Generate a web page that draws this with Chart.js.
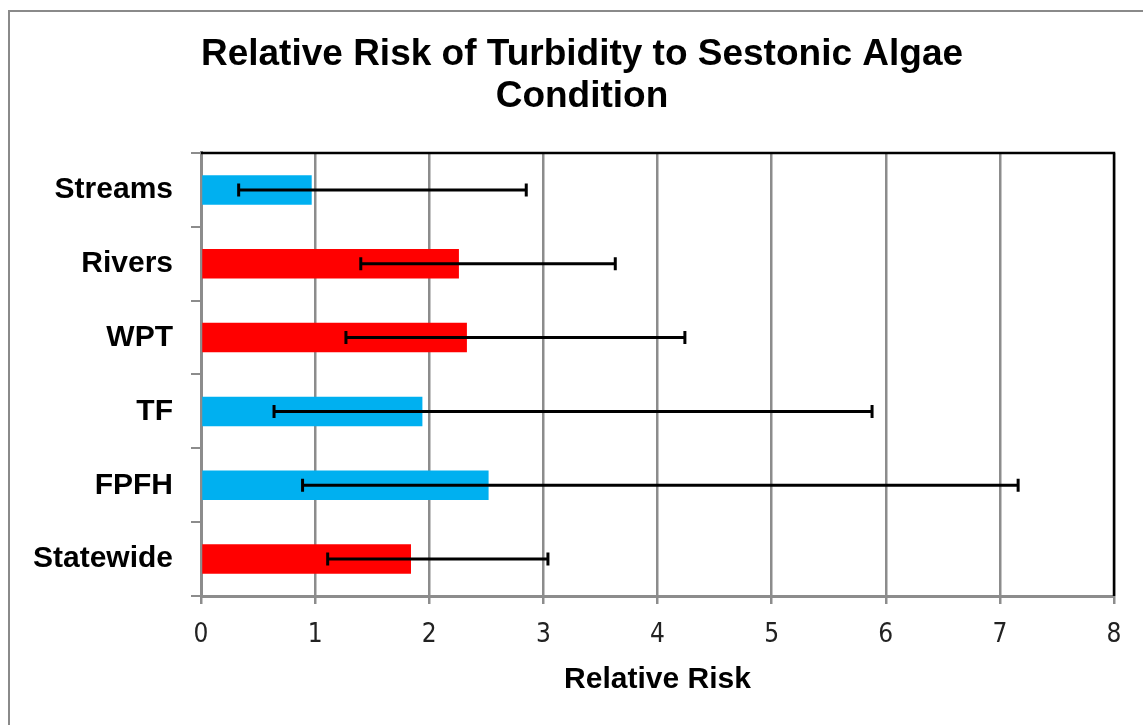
<!DOCTYPE html>
<html>
<head>
<meta charset="utf-8">
<script src="https://cdn.jsdelivr.net/npm/chart.js@4"></script>
<style>
  body { margin: 0; background: #fff; }
  #wrap { position: relative; width: 1143px; height: 725px; }
</style>
</head>
<body>
<div id="wrap"><canvas id="riskChart" width="1143" height="725"></canvas></div>
<script>
// Relative risk of turbidity to sestonic algae condition
const categories = ['Streams', 'Rivers', 'WPT', 'TF', 'FPFH', 'Statewide'];
const relRisk = [0.97, 2.26, 2.33, 1.94, 2.52, 1.84];
const ciLow = [0.33, 1.40, 1.27, 0.64, 0.89, 1.11];
const ciHigh = [2.85, 3.63, 4.24, 5.88, 7.16, 3.04];
const barColors = ['#00b0f0', '#ff0000', '#ff0000', '#00b0f0', '#00b0f0', '#ff0000'];
const xTicks = [0, 1, 2, 3, 4, 5, 6, 7, 8];

const gridGray = '#8c8c8c';

// outer frame of the picture
const framePlugin = {
    id: 'frame',
    beforeDraw(chart) {
        const ctx = chart.ctx;
        ctx.save();
        ctx.fillStyle = '#fff';
        ctx.fillRect(0, 0, chart.width, chart.height);
        ctx.strokeStyle = '#8a8a8a';
        ctx.lineWidth = 2;
        ctx.strokeRect(9, 11, chart.width + 20, chart.height + 20);
        ctx.restore();
    },
    // let the long category labels use the space left of the padding (no clipping)
    afterLayout(chart) {
        chart.scales.y.left = 0;
    }
};

// asymmetric error bars, drawn through the x scale
const errorBarPlugin = {
    id: 'errorBars',
    afterDatasetsDraw(chart) {
        const ctx = chart.ctx;
        const xs = chart.scales.x;
        const meta = chart.getDatasetMeta(0);
        ctx.save();
        ctx.strokeStyle = '#000';
        ctx.lineWidth = 3;
        meta.data.forEach((bar, i) => {
            const y = bar.y;
            const x1 = xs.getPixelForValue(ciLow[i]);
            const x2 = xs.getPixelForValue(ciHigh[i]);
            ctx.beginPath();
            ctx.moveTo(x1, y);
            ctx.lineTo(x2, y);
            ctx.moveTo(x1, y - 6.5);
            ctx.lineTo(x1, y + 6.5);
            ctx.moveTo(x2, y - 6.5);
            ctx.lineTo(x2, y + 6.5);
            ctx.stroke();
        });
        ctx.restore();
    }
};

// black top and right edges of the plot area
const plotBorderPlugin = {
    id: 'plotBorder',
    afterDraw(chart) {
        const a = chart.chartArea;
        const ctx = chart.ctx;
        ctx.save();
        ctx.strokeStyle = '#000';
        ctx.lineWidth = 2.5;
        ctx.beginPath();
        ctx.moveTo(a.left, a.top);
        ctx.lineTo(a.right, a.top);
        ctx.lineTo(a.right, a.bottom);
        ctx.stroke();
        ctx.restore();
    }
};

const canvas = document.getElementById('riskChart');
if (canvas) {
    const ctx = canvas.getContext('2d');
    const riskChart = new Chart(ctx, {
        type: 'bar',
        data: {
            labels: categories,
            datasets: [{
                data: relRisk,
                backgroundColor: barColors,
                borderWidth: 0,
                categoryPercentage: 0.4,
                barPercentage: 1
            }]
        },
        options: {
            indexAxis: 'y',
            responsive: false,
            animation: false,
            layout: {
                padding: { left: 50, right: 29, top: 0, bottom: 0 }
            },
            scales: {
                x: {
                    min: 0,
                    max: 8,
                    afterFit: function(scale) { scale.height = 129; },
                    afterBuildTicks: function(scale) {
                        scale.ticks = xTicks.map(v => ({ value: v }));
                    },
                    grid: {
                        color: gridGray,
                        lineWidth: 2.5,
                        tickLength: 8
                    },
                    border: { color: gridGray, width: 3 },
                    ticks: {
                        color: '#222',
                        padding: 16,
                        font: { family: "'Liberation Sans Narrow', 'DejaVu Sans Condensed', sans-serif", size: 26 }
                    },
                    title: {
                        display: true,
                        text: 'Relative Risk',
                        color: '#000',
                        font: { family: "'Liberation Sans', Arial, sans-serif", size: 30, weight: 'bold', lineHeight: 1.2 },
                        padding: { top: 0, bottom: 27 }
                    }
                },
                y: {
                    afterFit: function(scale) { scale.width = 151; },
                    grid: {
                        drawOnChartArea: false,
                        color: gridGray,
                        lineWidth: 2,
                        tickLength: 10
                    },
                    border: { color: gridGray, width: 3 },
                    ticks: {
                        color: '#000',
                        padding: 18,
                        font: { family: "'Liberation Sans', Arial, sans-serif", size: 30, weight: 'bold' }
                    }
                }
            },
            plugins: {
                legend: { display: false },
                tooltip: { enabled: false },
                title: {
                    display: true,
                    text: ['Relative Risk of Turbidity to Sestonic Algae', 'Condition'],
                    color: '#000',
                    font: { family: "'Liberation Sans', Arial, sans-serif", size: 37, weight: 'bold', lineHeight: 1.135 },
                    padding: { top: 34, bottom: 35 }
                }
            }
        },
        plugins: [framePlugin, errorBarPlugin, plotBorderPlugin]
    });
} else {
    console.error('Canvas riskChart not found.');
}
</script>
</body>
</html>
